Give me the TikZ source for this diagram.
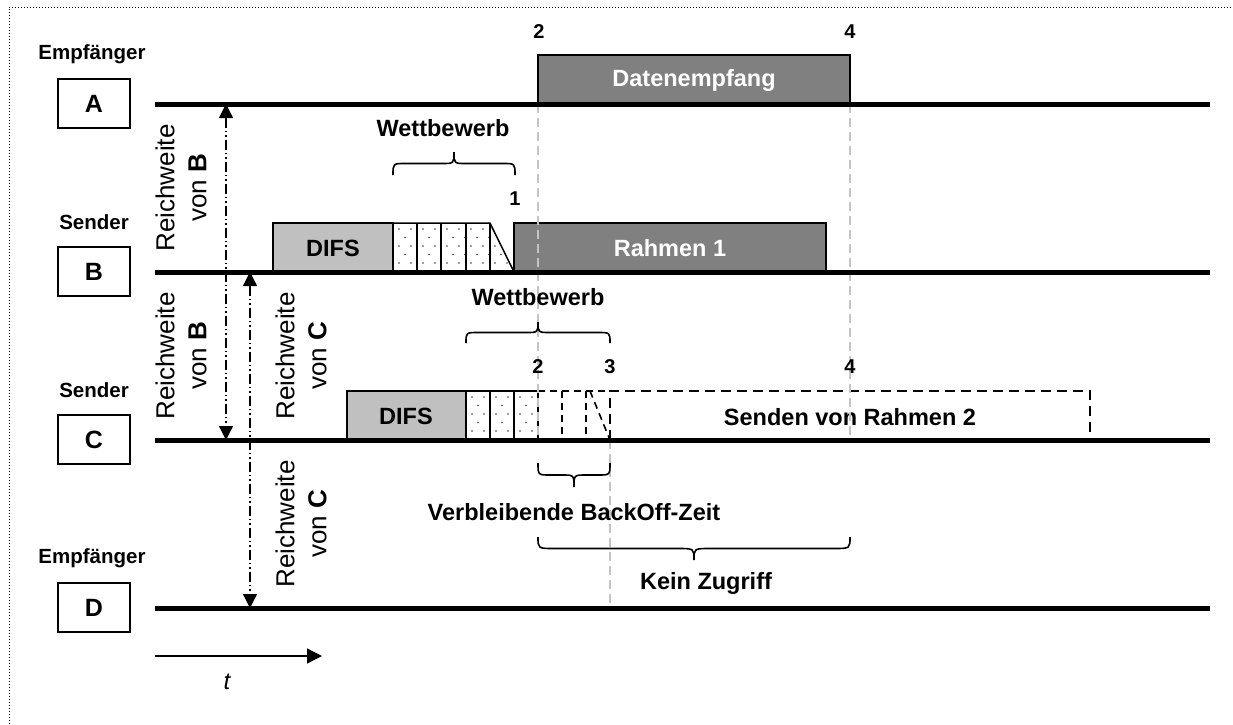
\documentclass[tikz,border=0pt]{standalone}
\usepackage{fontspec}
\setmainfont{Liberation Sans}
\usetikzlibrary{arrows.meta}
\definecolor{darkbox}{HTML}{808080}
\definecolor{lightbox}{HTML}{C0C0C0}
\definecolor{guide}{HTML}{C4C4C4}
\definecolor{dotcol}{HTML}{404040}
\newcommand\curlybrace[5]{%
  \pgfmathsetmacro\cbMid{(#3+#4)/2}%
  \pgfmathsetmacro\cbX{(#1+#2)/2}%
  \draw[bracepath] (#1,#3) .. controls (#1,\cbMid) .. ({#1+#5},\cbMid) -- ({\cbX-#5},\cbMid) .. controls (\cbX,\cbMid) .. (\cbX,#4) .. controls (\cbX,\cbMid) .. ({\cbX+#5},\cbMid) -- ({#2-#5},\cbMid) .. controls (#2,\cbMid) .. (#2,#3);}
\begin{document}
\begin{tikzpicture}[x=1pt,y=-1pt,
  lbl/.style={inner sep=0pt, font=\bfseries\fontsize{23.5}{27}\selectfont},
  whitelbl/.style={lbl, text=white},
  num/.style={inner sep=0pt, font=\bfseries\fontsize{20}{23}\selectfont},
  role/.style={inner sep=0pt, font=\bfseries\fontsize{20.5}{24}\selectfont},
  stationbox/.style={draw, line width=1.6pt, minimum width=72pt, minimum height=49pt, inner sep=0pt, font=\bfseries\fontsize{25}{28}\selectfont},
  timeline/.style={line width=5pt},
  guideline/.style={guide, line width=2pt, dash pattern=on 9pt off 5pt},
  rangearrow/.style={line width=1.3pt, dash pattern=on 10pt off 3pt on 1.5pt off 3pt on 1.5pt off 3pt, {Triangle[length=14pt,width=14pt]}-{Triangle[length=14pt,width=14pt]}},
  rangelbl/.style={rotate=90, align=center, inner sep=0pt, font=\fontsize{26}{32}\selectfont},
  boxline/.style={line width=1.5pt},
  dashline/.style={line width=1.6pt, dash pattern=on 10pt off 6pt},
  shortdash/.style={line width=1.6pt, dash pattern=on 7pt off 5pt},
  bracepath/.style={line width=1.6pt},
]
\useasboundingbox (0,0) rectangle (1233,724);
% frame
\draw[line width=1pt, dash pattern=on 1pt off 2pt] (9,724) -- (9,7) -- (1233,7);

% station labels and boxes
\node[role] (empA) at (92,54) {Empfänger};
\node[stationbox] (A) at (94,103.5) {A};
\node[role] (sendB) at (94,222) {Sender};
\node[stationbox] (B) at (94,271.5) {B};
\node[role] (sendC) at (94,390) {Sender};
\node[stationbox] (C) at (94,439.5) {C};
\node[role] (empD) at (92,558) {Empfänger};
\node[stationbox] (D) at (94,607.5) {D};

% ---- row A
\draw[boxline, fill=darkbox] (538,55) rectangle (850,104);
\node[whitelbl] (daten) at (694,80) {Datenempfang};

% ---- row B
\draw[boxline, fill=lightbox] (273,223) rectangle (393,272);
\node[lbl] (difsB) at (333,248) {DIFS};
\begin{scope}
  \clip (393,223) -- (490,223) -- (514,272) -- (393,272) -- cycle;
  \foreach \i in {0,...,10} {\foreach \j in {0,...,5} {
    \fill[dotcol] ({399+12*\i+6*mod(\j,2)},{229+8.5*\j}) circle (0.9pt);}}
\end{scope}
\draw[boxline] (393,223) -- (490,223) -- (514,272);
\foreach \xx in {417,441,466,490} {\draw[boxline] (\xx,223) -- (\xx,272);}
\draw[boxline, fill=darkbox] (514,223) rectangle (826,272);
\node[whitelbl] (rahmen) at (670,248) {Rahmen 1};

% ---- row C
\draw[boxline, fill=lightbox] (347,391) rectangle (466,440);
\node[lbl] (difsC) at (406,416) {DIFS};
\begin{scope}
  \clip (466,391) rectangle (538,440);
  \foreach \i in {0,...,6} {\foreach \j in {0,...,5} {
    \fill[dotcol] ({472+12*\i+6*mod(\j,2)},{397+8.5*\j}) circle (0.9pt);}}
\end{scope}
\draw[boxline] (466,391) -- (538,391);
\foreach \xx in {490,514,538} {\draw[boxline] (\xx,391) -- (\xx,440);}
\draw[shortdash] (538,391) -- (610,391);
\foreach \xx in {562,586} {\draw[shortdash] (\xx,391) -- (\xx,440);}
\draw[shortdash] (590,391) -- (610,440);
\draw[dashline] (610,440) -- (610,391) -- (1090,391) -- (1090,440);
\node[lbl] (senden) at (850,417) {Senden von Rahmen 2};

% ---- guide lines
\draw[guideline] (538,104) -- (538,440);
\draw[guideline] (850,104) -- (850,440);
\draw[guideline] (610,440) -- (610,608);

% ---- time lines
\coordinate (a0) at (155,104); \coordinate (a1) at (1210,104);
\coordinate (b0) at (155,272); \coordinate (b1) at (1210,272);
\coordinate (c0) at (155,440); \coordinate (c1) at (1210,440);
\coordinate (d0) at (155,608); \coordinate (d1) at (1210,608);
\draw[timeline] (a0) -- (a1);
\draw[timeline] (b0) -- (b1);
\draw[timeline] (c0) -- (c1);
\draw[timeline] (d0) -- (d1);

% ---- numbers
\node[num] (n2a) at (539,32) {2};
\node[num] (n4a) at (850,32) {4};
\node[num] (n1) at (515,199) {1};
\node[num] (n2c) at (538,367) {2};
\node[num] (n3c) at (610,367) {3};
\node[num] (n4c) at (850,367) {4};

% ---- braces
\curlybrace{393}{515}{175}{152}{12}
\node[lbl] (wettB) at (443,128) {Wettbewerb};
\curlybrace{466}{610}{343}{322}{12}
\node[lbl] (wettC) at (538,297) {Wettbewerb};
\curlybrace{538}{610}{463}{487}{12}
\node[lbl] (backoff) at (574,512) {Verbleibende BackOff-Zeit};
\curlybrace{538}{850}{537}{560}{16}
\node[lbl] (kein) at (706,583) {Kein Zugriff};

% ---- range arrows
\coordinate (rb0) at (226,104); \coordinate (rb1) at (226,440);
\coordinate (rc0) at (250,272); \coordinate (rc1) at (250,608);
\draw[rangearrow] (rb0) -- (rb1);
\draw[rangearrow] (rc0) -- (rc1);
\node[rangelbl] (rwB1) at (181,188) {Reichweite\\von \textbf{B}};
\node[rangelbl] (rwB2) at (181,356) {Reichweite\\von \textbf{B}};
\node[rangelbl] (rwC1) at (301,356) {Reichweite\\von \textbf{C}};
\node[rangelbl] (rwC2) at (301,524) {Reichweite\\von \textbf{C}};

% ---- time axis
\coordinate (t0) at (155,656); \coordinate (t1) at (322,656);
\draw[line width=1.5pt, -{Triangle[length=15pt,width=15pt]}] (t0) -- (t1);
\node[inner sep=0pt, font=\itshape\fontsize{24}{28}\selectfont] (tlbl) at (227,682) {t};
\end{tikzpicture}
\end{document}
